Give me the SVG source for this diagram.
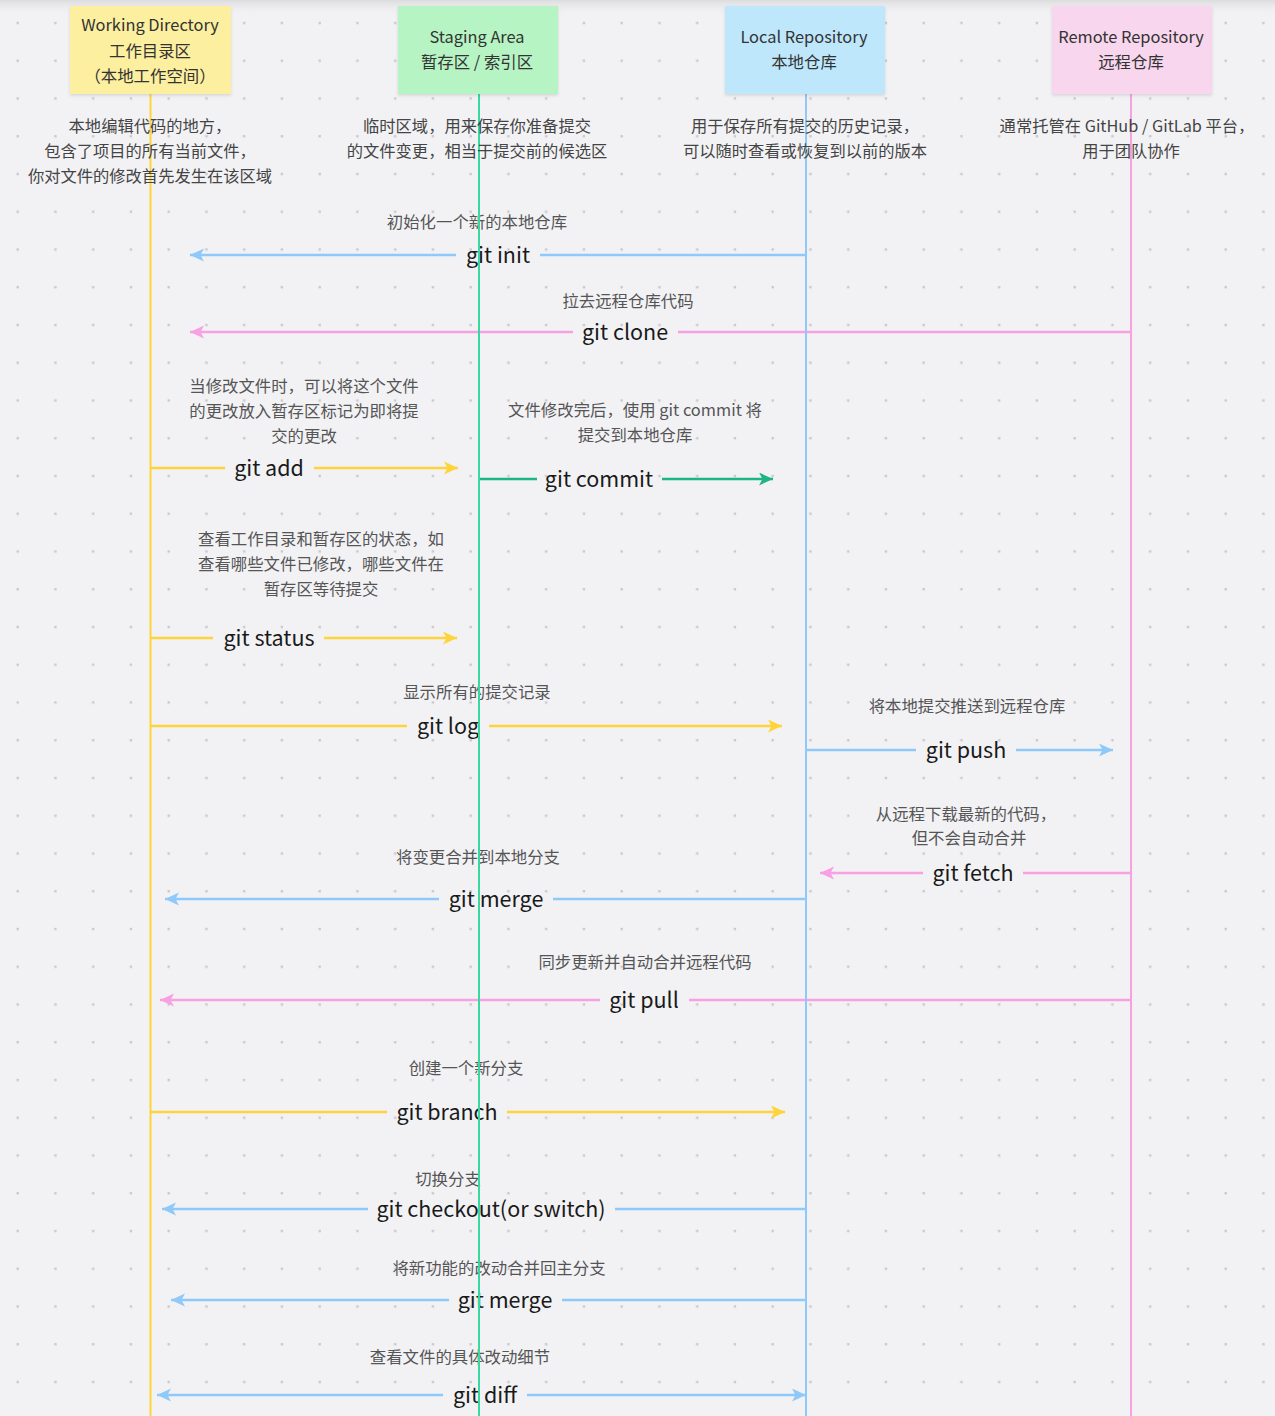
<svg xmlns="http://www.w3.org/2000/svg" width="1275" height="1416" viewBox="0 0 1275 1416">
<defs>
<style>
text{font-family:"Noto Sans CJK SC","Noto Sans",sans-serif}
.hd{font-size:16.4px;fill:#333;text-anchor:middle}
.ds{font-size:16.3px;fill:#444;text-anchor:middle}
.lb{font-size:16.4px;fill:#555;text-anchor:middle}
.cmd{font-size:21.5px;fill:#1a1a1a;text-anchor:middle}
.ln{fill:none;stroke-width:2.5}
.life{fill:none;stroke-width:2}
.y{stroke:#ffd43b}.b{stroke:#8ec9f9}.p{stroke:#f8a0e2}.g{stroke:#1db584}
</style>
<pattern id="dots" patternUnits="userSpaceOnUse" x="0" y="0" width="37.75" height="37.75">
<rect x="16.5" y="21.8" width="2.4" height="2.4" fill="#c9c9cd"/>
</pattern>
<linearGradient id="topshade" x1="0" y1="0" x2="0" y2="1">
<stop offset="0" stop-color="#dcdcdf"/>
<stop offset="1" stop-color="#f2f2f5" stop-opacity="0"/>
</linearGradient>
<filter id="sh" x="-10%" y="-10%" width="120%" height="130%">
<feDropShadow dx="0" dy="1.5" stdDeviation="1.5" flood-color="#000" flood-opacity="0.12"/>
</filter>
<marker id="aY" markerUnits="userSpaceOnUse" markerWidth="15" markerHeight="14" refX="14" refY="6.5" orient="auto"><path d="M0,0 L14,6.5 L0,13 L3.5,6.5 z" fill="#ffd43b"/></marker>
<marker id="aB" markerUnits="userSpaceOnUse" markerWidth="15" markerHeight="14" refX="14" refY="6.5" orient="auto"><path d="M0,0 L14,6.5 L0,13 L3.5,6.5 z" fill="#8ec9f9"/></marker>
<marker id="aP" markerUnits="userSpaceOnUse" markerWidth="15" markerHeight="14" refX="14" refY="6.5" orient="auto"><path d="M0,0 L14,6.5 L0,13 L3.5,6.5 z" fill="#f8a0e2"/></marker>
<marker id="aG" markerUnits="userSpaceOnUse" markerWidth="15" markerHeight="14" refX="14" refY="6.5" orient="auto"><path d="M0,0 L14,6.5 L0,13 L3.5,6.5 z" fill="#1db584"/></marker>
</defs>

<rect x="0" y="0" width="1275" height="1416" fill="#f2f2f5"/>
<rect x="0" y="0" width="1275" height="1416" fill="url(#dots)"/>
<rect x="0" y="0" width="1275" height="16" fill="url(#topshade)"/>

<g id="connectors">
<g id="c-init">
<text class="lb" x="477" y="228">初始化一个新的本地仓库</text>
<line class="ln b" x1="806" y1="255" x2="540" y2="255"/>
<line class="ln b" x1="456" y1="255" x2="190" y2="255" marker-end="url(#aB)"/>
<text class="cmd" x="498" y="263">git init</text>
</g>
<g id="c-clone">
<text class="lb" x="628" y="307">拉去远程仓库代码</text>
<line class="ln p" x1="1131" y1="332" x2="678" y2="332"/>
<line class="ln p" x1="573" y1="332" x2="190" y2="332" marker-end="url(#aP)"/>
<text class="cmd" x="625" y="340">git clone</text>
</g>
<g id="c-add">
<text class="lb" x="304" y="392">当修改文件时，可以将这个文件</text>
<text class="lb" x="304" y="417">的更改放入暂存区标记为即将提</text>
<text class="lb" x="304" y="442">交的更改</text>
<line class="ln y" x1="150" y1="468" x2="225" y2="468"/>
<line class="ln y" x1="314" y1="468" x2="458" y2="468" marker-end="url(#aY)"/>
<text class="cmd" x="269" y="476">git add</text>
</g>
<g id="c-commit">
<text class="lb" x="635" y="416">文件修改完后，使用 git commit 将</text>
<text class="lb" x="635" y="441">提交到本地仓库</text>
<line class="ln g" x1="479" y1="479" x2="537" y2="479"/>
<line class="ln g" x1="662" y1="479" x2="773" y2="479" marker-end="url(#aG)"/>
<text class="cmd" x="599" y="487">git commit</text>
</g>
<g id="c-status">
<text class="lb" x="321" y="545">查看工作目录和暂存区的状态，如</text>
<text class="lb" x="321" y="570">查看哪些文件已修改，哪些文件在</text>
<text class="lb" x="321" y="595">暂存区等待提交</text>
<line class="ln y" x1="150" y1="638" x2="213" y2="638"/>
<line class="ln y" x1="324" y1="638" x2="457" y2="638" marker-end="url(#aY)"/>
<text class="cmd" x="269" y="646">git status</text>
</g>
<g id="c-log">
<text class="lb" x="477" y="698">显示所有的提交记录</text>
<line class="ln y" x1="150" y1="726" x2="407" y2="726"/>
<line class="ln y" x1="489" y1="726" x2="782" y2="726" marker-end="url(#aY)"/>
<text class="cmd" x="448" y="734">git log</text>
</g>
<g id="c-push">
<text class="lb" x="967" y="712">将本地提交推送到远程仓库</text>
<line class="ln b" x1="806" y1="750" x2="916" y2="750"/>
<line class="ln b" x1="1016" y1="750" x2="1113" y2="750" marker-end="url(#aB)"/>
<text class="cmd" x="966" y="758">git push</text>
</g>
<g id="c-fetch">
<text class="lb" x="966" y="820">从远程下载最新的代码，</text>
<text class="lb" x="969" y="844">但不会自动合并</text>
<line class="ln p" x1="1131" y1="873" x2="1023" y2="873"/>
<line class="ln p" x1="923" y1="873" x2="820" y2="873" marker-end="url(#aP)"/>
<text class="cmd" x="973" y="881">git fetch</text>
</g>
<g id="c-merge">
<text class="lb" x="478" y="863">将变更合并到本地分支</text>
<line class="ln b" x1="806" y1="899" x2="553" y2="899"/>
<line class="ln b" x1="439" y1="899" x2="165" y2="899" marker-end="url(#aB)"/>
<text class="cmd" x="496" y="907">git merge</text>
</g>
<g id="c-pull">
<text class="lb" x="645" y="968">同步更新并自动合并远程代码</text>
<line class="ln p" x1="1131" y1="1000" x2="689" y2="1000"/>
<line class="ln p" x1="600" y1="1000" x2="160" y2="1000" marker-end="url(#aP)"/>
<text class="cmd" x="644" y="1008">git pull</text>
</g>
<g id="c-branch">
<text class="lb" x="466" y="1074">创建一个新分支</text>
<line class="ln y" x1="150" y1="1112" x2="387" y2="1112"/>
<line class="ln y" x1="507" y1="1112" x2="785" y2="1112" marker-end="url(#aY)"/>
<text class="cmd" x="447" y="1120">git branch</text>
</g>
<g id="c-checkout">
<text class="lb" x="448" y="1185">切换分支</text>
<line class="ln b" x1="806" y1="1209" x2="615" y2="1209"/>
<line class="ln b" x1="368" y1="1209" x2="162" y2="1209" marker-end="url(#aB)"/>
<text class="cmd" x="491" y="1217">git checkout(or switch)</text>
</g>
<g id="c-merge2">
<text class="lb" x="499" y="1274">将新功能的改动合并回主分支</text>
<line class="ln b" x1="806" y1="1300" x2="562" y2="1300"/>
<line class="ln b" x1="449" y1="1300" x2="171" y2="1300" marker-end="url(#aB)"/>
<text class="cmd" x="505" y="1308">git merge</text>
</g>
<g id="c-diff">
<text class="lb" x="460" y="1363">查看文件的具体改动细节</text>
<line class="ln b" x1="443" y1="1395" x2="157" y2="1395" marker-end="url(#aB)"/>
<line class="ln b" x1="527" y1="1395" x2="806" y2="1395" marker-end="url(#aB)"/>
<text class="cmd" x="485" y="1403">git diff</text>
</g>
</g>

<g id="node-working">
<line class="life" stroke="#ffd43b" x1="150.5" y1="94" x2="150.5" y2="1416"/>
<rect x="70" y="6" width="161" height="88" fill="#fcef9f" filter="url(#sh)"/>
<text class="hd" x="150" y="31">Working Directory</text>
<text class="hd" x="150" y="56.5">工作目录区</text>
<text class="hd" x="150" y="81.5">（本地工作空间）</text>
<text class="ds" x="150" y="132">本地编辑代码的地方，</text>
<text class="ds" x="150" y="157">包含了项目的所有当前文件，</text>
<text class="ds" x="150" y="182">你对文件的修改首先发生在该区域</text>
</g>

<g id="node-staging">
<line class="life" stroke="#38d9a0" x1="479" y1="94" x2="479" y2="1416"/>
<rect x="398" y="6" width="160" height="88" fill="#b6f4c4" filter="url(#sh)"/>
<text class="hd" x="477" y="43">Staging Area</text>
<text class="hd" x="477" y="68">暂存区 / 索引区</text>
<text class="ds" x="477" y="132">临时区域，用来保存你准备提交</text>
<text class="ds" x="477" y="157">的文件变更，相当于提交前的候选区</text>
</g>

<g id="node-local">
<line class="life" stroke="#8ec9f9" x1="806" y1="94" x2="806" y2="1416"/>
<rect x="725" y="6" width="160" height="88" fill="#bee7fc" filter="url(#sh)"/>
<text class="hd" x="804" y="43">Local Repository</text>
<text class="hd" x="804" y="68">本地仓库</text>
<text class="ds" x="805" y="132">用于保存所有提交的历史记录，</text>
<text class="ds" x="805" y="157">可以随时查看或恢复到以前的版本</text>
</g>

<g id="node-remote">
<line class="life" stroke="#f8a0e2" x1="1131" y1="94" x2="1131" y2="1416"/>
<rect x="1052" y="6" width="160" height="88" fill="#f8d6ee" filter="url(#sh)"/>
<text class="hd" x="1131" y="43">Remote Repository</text>
<text class="hd" x="1131" y="68">远程仓库</text>
<text class="ds" x="1127" y="132">通常托管在 GitHub / GitLab 平台，</text>
<text class="ds" x="1131" y="157">用于团队协作</text>
</g>
</svg>
